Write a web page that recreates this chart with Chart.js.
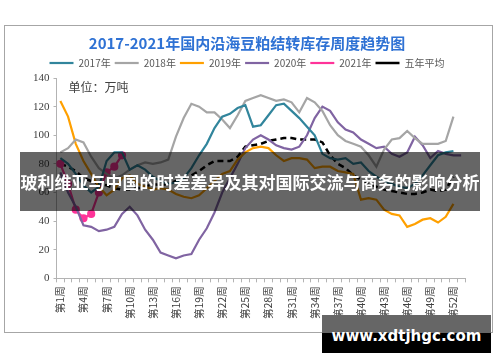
<!DOCTYPE html>
<html>
<head>
<meta charset="utf-8">
<script src="https://cdn.jsdelivr.net/npm/chart.js@4/dist/chart.umd.min.js"></script>
<style>
  html,body{margin:0;padding:0;background:#fff;width:500px;height:362px;overflow:hidden;}
  #frame{position:absolute;left:4px;top:25px;width:489px;height:308px;border:1px solid #a6a6a6;box-sizing:border-box;}
  #banner{position:absolute;left:20px;top:152px;width:460px;height:59px;background:rgba(0,0,0,0.6);
    color:#fff;font:bold 17px "Noto Sans CJK SC",sans-serif;line-height:59px;text-align:center;white-space:nowrap;}
  #mark{position:absolute;left:322px;top:315px;width:169px;height:38px;
    background:linear-gradient(#666 0,#666 47%,#000 47%,#000 100%);
    color:#fff;font:bold 15px "DejaVu Sans",sans-serif;line-height:42px;text-align:center;}
</style>
</head>
<body>
<div id="frame"><canvas id="chart"></canvas></div>
<div id="banner">玻利维亚与中国的时差差异及其对国际交流与商务的影响分析</div>
<div id="mark">www.xdtjhgc.com</div>
<script>
// week labels 第1周 .. 第53周
const weeks = [];
for(let i=1;i<=53;i++) weeks.push('第'+i+'周');

// values (万吨)
const y2017 = [84,80,73,65,60,64,82,88,88,76,79,76,71,68,66,67,70,77,86,94,105,113,115,119,121,106,107,114,121,122,117,112,106,100,87,84,83,84,80,81,75,71,68,66,64,63,66,72,79,86,88,89,null];
const y2018 = [88,91,97,95,85,77,73,70,72,76,79,81,80,81,83,99,112,122,120,116,116,111,105,114,124,126,128,126,124,125,123,116,126,123,117,107,100,96,94,92,86,78,90,97,98,103,98,94,94,94,96,113,null];
const y2019 = [124,113,94,82,73,64,58,62,70,72,66,64,62,63,62,59,57,56,58,63,68,73,75,83,88,91,92,91,86,82,84,84,83,77,78,78,75,74,73,55,56,55,48,45,44,36,38,41,42,39,43,52,null];
const y2020 = [74,60,50,37,36,33,34,36,45,50,44,34,27,18,16,14,16,17,27,35,46,60,70,80,91,97,100,97,93,91,90,92,100,112,120,117,109,104,102,97,94,91,92,87,85,88,99,93,84,89,87,86,86];
const y2021 = [80,66,48,42,45,60,74,78,86];
const avg5  = [80,78,75,70,68,66,65,63,62,62,63,64,66,65,66,68,70,72,75,79,82,82,82,85,92,93,94,96,97,98,98,97,97,97,95,86,80,77,72,69,66,64,62,61,60,59,59,60,62,61,62,71,null];

const names  = ['2017年','2018年','2019年','2020年','2021年','五年平均'];
const colors = ['#31859c','#a5a5a5','#ffa000','#8064a2','#ff3399','#000000'];

const unitLabel = {
  id:'unitLabel',
  afterDraw(chart){
    const c = chart.ctx, a = chart.chartArea;
    c.save();
    c.font = '12px "Noto Sans CJK SC", sans-serif';
    c.fillStyle = '#404040';
    c.textBaseline = 'middle';
    c.fillText('单位：万吨', a.left + 12, a.top + 9);
    c.restore();
  }
};

const series = [y2017,y2018,y2019,y2020,y2021,avg5];
const datasets = series.map((d,i)=>({
  label:names[i],
  data:d,
  borderColor:colors[i],
  backgroundColor:colors[i],
  borderWidth: i===5 ? 2.5 : 2.2,
  borderDash: i===5 ? [6,4] : [],
  pointRadius: i===4 ? 3 : 0,
  pointBackgroundColor:colors[i],
  tension:0,
  spanGaps:false
}));

new Chart(document.getElementById('chart'),{
  type:'line',
  data:{labels:weeks,datasets},
  plugins:[unitLabel],
  options:{
    responsive:true,maintainAspectRatio:false,animation:false,
    layout:{padding:{left:24,right:27,top:2,bottom:9}},
    plugins:{
      title:{display:true,text:'2017-2021年国内沿海豆粕结转库存周度趋势图',
        color:'#2f72d4',font:{size:15,weight:'bold',family:'"Noto Sans CJK SC", sans-serif'},
        padding:{top:6,bottom:2}},
      legend:{position:'top',
        labels:{usePointStyle:true,pointStyle:'line',pointStyleWidth:24,boxHeight:10,
          color:'#595959',padding:4,font:{size:10,family:'"Noto Sans CJK SC", sans-serif'}}},
      tooltip:{enabled:false}
    },
    scales:{
      x:{offset:true,
        grid:{drawOnChartArea:false,drawTicks:true,tickLength:4,color:'#b3b3b3',offset:true},
        border:{display:true,color:'#b3b3b3'},
        ticks:{autoSkip:false,minRotation:90,maxRotation:90,padding:4,color:'#404040',
          font:{size:10.5,family:'"Noto Sans CJK SC", sans-serif'},
          callback:(v,i)=> i%3===0 ? weeks[i] : ''}},
      y:{min:0,max:140,
        grid:{drawOnChartArea:false,drawTicks:true,tickLength:3,color:'#b3b3b3'},
        border:{display:true,color:'#b3b3b3'},
        ticks:{stepSize:20,padding:4,color:'#404040',font:{size:11,family:'"Liberation Serif", serif'}}}
    }
  }
});
</script>
</body>
</html>
